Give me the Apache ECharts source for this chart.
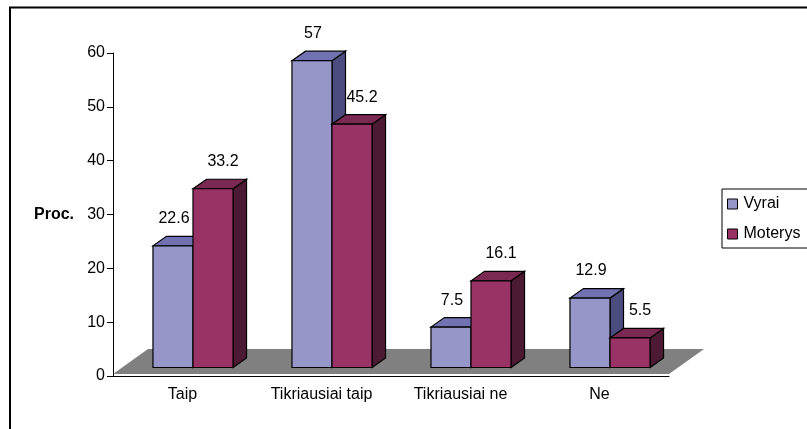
<!DOCTYPE html>
<html>
<head>
<meta charset="utf-8">
<script src="https://cdn.jsdelivr.net/npm/echarts@6/dist/echarts.min.js"></script>
<style>
  html, body { margin: 0; padding: 0; background: #fff; }
  #chart { width: 807px; height: 429px; }
</style>
</head>
<body>
<div id="chart"></div>
<script>
// duomenys
var categories = ['Taip', 'Tikriausiai taip', 'Tikriausiai ne', 'Ne'];
var vyrai = [22.6, 57, 7.5, 12.9];
var moterys = [33.2, 45.2, 16.1, 5.5];
var seriesNames = ['Vyrai', 'Moterys'];

var FONT = "'Liberation Sans', Arial, sans-serif";
var FLOOR = [35, -25];   // grindu gylis
var FRONT = [10.5, -8.5]; // stulpeliu priekio poslinkis
var DEPTH = [13.5, -9.5]; // stulpelio gylis

var palette = [
    { front: '#9696C8', top: '#7272B2', side: '#4C4C80', labelDx: 1 },
    { front: '#993366', top: '#7A2952', side: '#4D1A33', labelDx: 10 }
];

function barRenderer(k) {
    var c = palette[k];
    return function (params, api) {
        var cat = api.value(0), val = api.value(1);
        var base = api.coord([cat, 0]);
        var top = api.coord([cat, val]);
        var band = api.size([1, 0])[0];
        var w = band * 0.288;
        var cx = base[0] + FRONT[0];
        var x0 = k === 0 ? cx - w : cx;
        var x1 = x0 + w;
        var yb = base[1] + FRONT[1];
        var yt = top[1] + FRONT[1];
        var dx = DEPTH[0], dy = DEPTH[1];
        var stroke = { stroke: '#000', lineWidth: 1.2 };
        return {
            type: 'group',
            children: [
                {
                    type: 'polygon',
                    shape: { points: [[x1, yt], [x1 + dx, yt + dy], [x1 + dx, yb + dy], [x1, yb]] },
                    style: Object.assign({ fill: c.side }, stroke)
                },
                {
                    type: 'polygon',
                    shape: { points: [[x0, yt], [x1, yt], [x1 + dx, yt + dy], [x0 + dx, yt + dy]] },
                    style: Object.assign({ fill: c.top }, stroke)
                },
                {
                    type: 'rect',
                    shape: { x: x0, y: yt, width: w, height: yb - yt },
                    style: Object.assign({ fill: c.front }, stroke)
                },
                {
                    type: 'text',
                    x: x0 + w / 2 + c.labelDx,
                    y: yt - 27,
                    style: {
                        text: String(val),
                        fill: '#000',
                        font: '16px ' + FONT,
                        align: 'center',
                        verticalAlign: 'middle'
                    }
                }
            ]
        };
    };
}

function floorRenderer(params, api) {
    var cs = params.coordSys;
    var yb = cs.y + cs.height - 2;
    return {
        type: 'polygon',
        shape: {
            points: [
                [cs.x, yb],
                [cs.x + cs.width, yb],
                [cs.x + cs.width + FLOOR[0], yb + FLOOR[1]],
                [cs.x + FLOOR[0], yb + FLOOR[1]]
            ]
        },
        style: { fill: '#808080' }
    };
}

function toPairs(arr) {
    return arr.map(function (v, i) { return [i, v]; });
}

var myChart = echarts.init(document.getElementById('chart'));
myChart.setOption({
    animation: false,
    textStyle: { fontFamily: FONT },
    graphic: [{
        type: 'rect',
        shape: { x: 10, y: 7.5, width: 900, height: 600 },
        style: { fill: 'none', stroke: '#000', lineWidth: 2 },
        silent: true
    }],
    grid: { left: 113, top: 53, width: 556, height: 323 },
    legend: {
        data: seriesNames,
        orient: 'vertical',
        left: 722,
        top: 189,
        padding: [7, 8, 6, 5],
        itemWidth: 10,
        itemHeight: 10,
        itemGap: 14,
        icon: 'rect',
        borderColor: '#000',
        borderWidth: 1,
        borderRadius: 0,
        itemStyle: { borderColor: '#000', borderWidth: 1 },
        textStyle: { fontSize: 16, color: '#000', fontFamily: FONT, padding: [0, 0, 0, 1] }
    },
    xAxis: {
        type: 'category',
        data: categories,
        axisLine: { lineStyle: { color: '#000', width: 1 } },
        axisTick: { length: 6, lineStyle: { color: '#000' } },
        axisLabel: { fontSize: 16, color: '#000', margin: 11, fontFamily: FONT }
    },
    yAxis: {
        type: 'value',
        min: 0,
        max: 60,
        interval: 10,
        name: 'Proc.',
        nameLocation: 'middle',
        nameRotate: 0,
        nameGap: 39,
        nameTextStyle: { fontSize: 16, fontWeight: 'bold', color: '#000', fontFamily: FONT },
        axisLine: { show: true, lineStyle: { color: '#000', width: 1 } },
        axisTick: { show: true, length: 6, lineStyle: { color: '#000' } },
        splitLine: { show: false },
        axisLabel: { fontSize: 16, color: '#000', margin: 8, fontFamily: FONT }
    },
    series: [
        {
            name: 'floor',
            type: 'custom',
            z: 1,
            silent: true,
            renderItem: floorRenderer,
            data: [[0, 0]],
            encode: { x: 0, y: 1 }
        },
        {
            name: seriesNames[0],
            type: 'custom',
            z: 2,
            renderItem: barRenderer(0),
            itemStyle: { color: palette[0].front, borderColor: '#000', borderWidth: 1 },
            data: toPairs(vyrai),
            encode: { x: 0, y: 1 }
        },
        {
            name: seriesNames[1],
            type: 'custom',
            z: 2,
            renderItem: barRenderer(1),
            itemStyle: { color: palette[1].front, borderColor: '#000', borderWidth: 1 },
            data: toPairs(moterys),
            encode: { x: 0, y: 1 }
        }
    ]
});
</script>
</body>
</html>
